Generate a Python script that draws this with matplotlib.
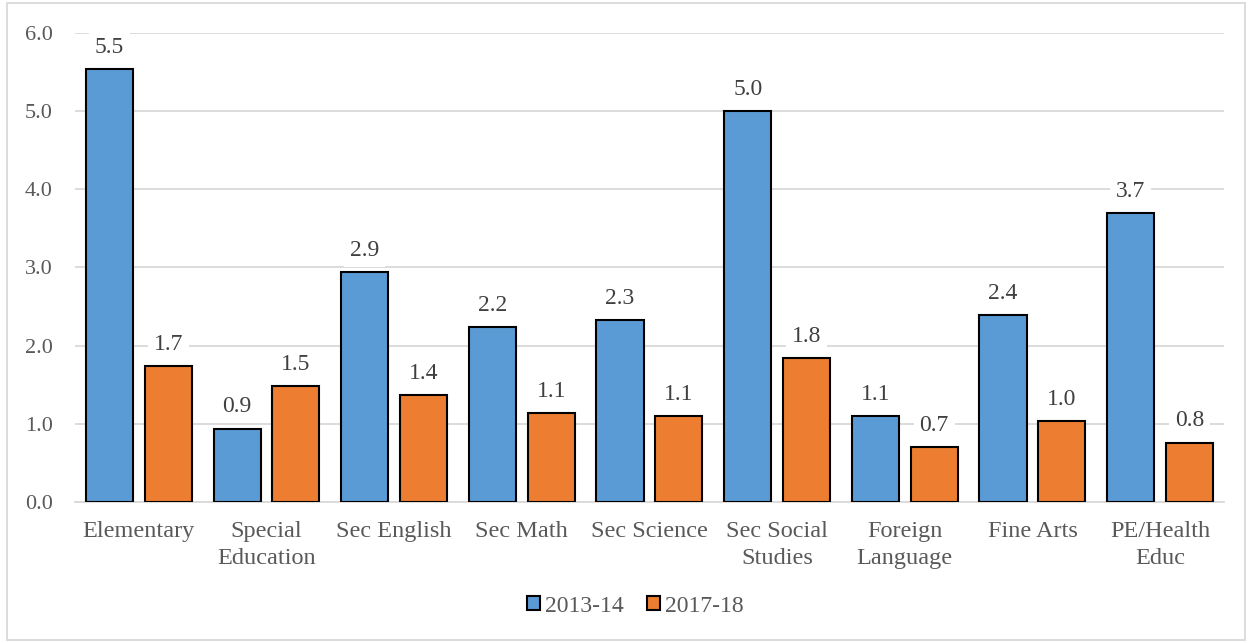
import matplotlib
matplotlib.use("Agg")
import matplotlib.pyplot as plt
from matplotlib.patches import Rectangle, Patch
import numpy as np

categories = ["Elementary", "Special\nEducation", "Sec English", "Sec Math", "Sec Science",
              "Sec Social\nStudies", "Foreign\nLanguage", "Fine Arts", "PE/Health\nEduc"]
series_names = ["2013-14", "2017-18"]
values_2013 = [5.54, 0.94, 2.94, 2.24, 2.33, 5.00, 1.10, 2.39, 3.70]
values_2017 = [1.74, 1.48, 1.37, 1.14, 1.10, 1.84, 0.70, 1.04, 0.76]
yticks = [0.0, 1.0, 2.0, 3.0, 4.0, 5.0, 6.0]

plt.rcParams['font.family'] = ['Liberation Serif', 'DejaVu Serif']
text_color = "#595959"
grid_color = "#d9d9d9"
blue = "#5b9bd5"
orange = "#ed7d31"

fig = plt.figure(figsize=(12.52, 6.43), dpi=100)
ax = fig.add_axes([0.0599, 0.2193, 0.9177, 0.7294])

x = np.arange(len(categories))
w = 0.37
off = 0.23
b1 = ax.bar(x - off, values_2013, w, color=blue, edgecolor="black", linewidth=1.5, zorder=3, label=series_names[0])
b2 = ax.bar(x + off, values_2017, w, color=orange, edgecolor="black", linewidth=1.5, zorder=3, label=series_names[1])

for bars, vals in ((b1, values_2013), (b2, values_2017)):
    for rect, v in zip(bars, vals):
        ax.annotate(f"{v:.1f}", (rect.get_x() + rect.get_width() / 2, v),
                    xytext=(0, 8), textcoords="offset points", ha="center", va="bottom",
                    fontsize=17, color="#404040", zorder=4,
                    bbox=dict(boxstyle="square,pad=0.25", fc="white", ec="none"))

ax.set_xlim(-0.5, len(categories) - 0.5)
ax.set_ylim(0, 6)
ax.set_yticks(yticks)
ax.set_yticklabels([f"{t:.1f}" for t in yticks])
ax.set_xticks(x)
ax.set_xticklabels(categories, linespacing=1.35)
ax.tick_params(axis="both", length=0, colors=text_color)
ax.tick_params(axis="y", pad=16, labelsize=16)
ax.tick_params(axis="x", pad=14, labelsize=17.5)
ax.yaxis.grid(True, color=grid_color, linewidth=1.3, zorder=0)
ax.set_axisbelow(True)
for s in ["top", "right", "left"]:
    ax.spines[s].set_visible(False)
ax.spines["bottom"].set_color(grid_color)
ax.spines["bottom"].set_linewidth(1.3)
ax.spines["bottom"].set_zorder(2)

handles = [Patch(facecolor=blue, edgecolor="black", linewidth=1.5),
           Patch(facecolor=orange, edgecolor="black", linewidth=1.5)]
leg = fig.legend(handles, series_names, loc="center", bbox_to_anchor=(0.5 + 9 / 1252, 1 - 606 / 643),
                 ncol=2, frameon=False, fontsize=17, handlelength=0.55, handleheight=0.55,
                 handletextpad=0.2, columnspacing=1.0)
for t in leg.get_texts():
    t.set_color(text_color)

fig.patches.append(Rectangle((7 / 1252, 3 / 643), 1 - 14 / 1252, 1 - 6 / 643,
                             transform=fig.transFigure, fill=False, edgecolor=grid_color, linewidth=1.3))

fig.savefig("out.png", dpi=100)
